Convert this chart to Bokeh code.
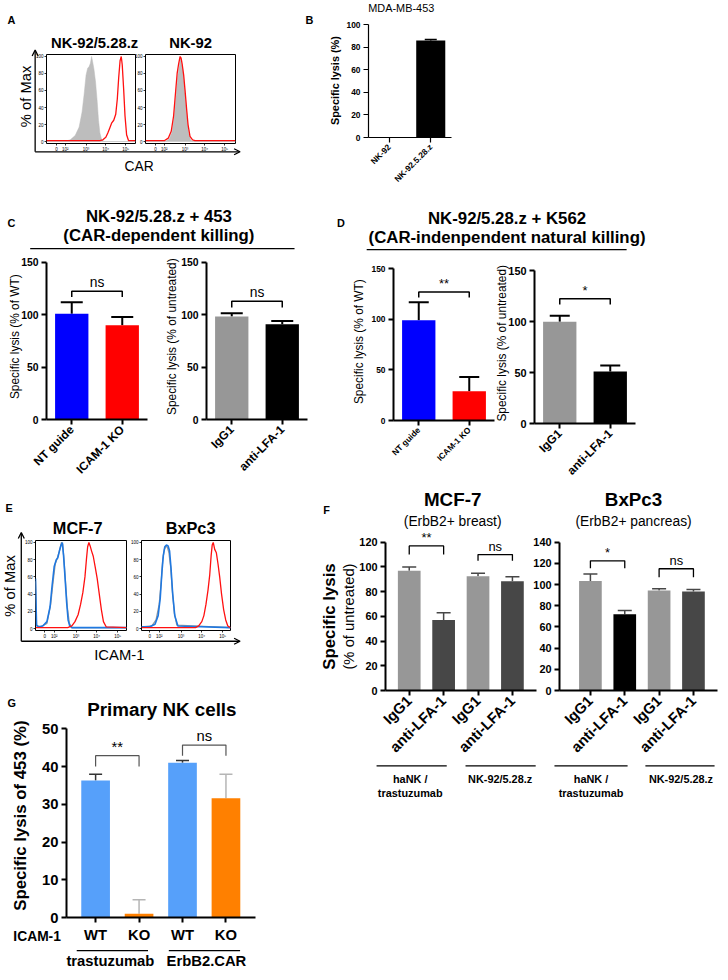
import math
from bokeh.plotting import figure
from bokeh.models import (Range1d, FixedTicker, ColumnDataSource, Whisker, TeeHead,
                          Arrow, OpenHead, Label, Column)
from bokeh.embed import file_html
from bokeh.resources import INLINE
from bokeh.core.properties import value

# ======================= DATA =======================
# Panel A: CAR flow histograms (x = display position in decades, y = % of max)
a1_gray_x = [1.0, 1.9, 2.2, 2.45, 2.65, 2.8, 2.9, 3.0, 3.08, 3.15, 3.22, 3.28, 3.33, 3.4, 3.48, 3.56, 3.63, 3.7, 3.78, 3.9, 5.5]
a1_gray_y = [0, 0, 2, 7, 17, 35, 55, 78, 86, 88, 92, 100, 94, 85, 70, 48, 25, 10, 3, 0, 0]
a1_red_x = [1.0, 3.7, 3.85, 4.0, 4.1, 4.2, 4.3, 4.4, 4.5, 4.58, 4.65, 4.72, 4.78, 4.83, 4.9, 4.97, 5.05, 5.15, 5.5]
a1_red_y = [1, 1, 2, 5, 10, 16, 22, 25, 32, 50, 75, 95, 100, 90, 62, 30, 8, 1, 1]
a2_gray_x = [1.0, 2.0, 2.2, 2.35, 2.45, 2.55, 2.62, 2.7, 2.76, 2.82, 2.88, 2.95, 3.02, 3.1, 3.18, 3.28, 3.4, 5.55]
a2_gray_y = [0, 0, 3, 12, 30, 55, 75, 88, 98, 92, 85, 70, 50, 28, 10, 2, 0, 0]
a2_red_x = [1.0, 1.95, 2.15, 2.3, 2.42, 2.52, 2.6, 2.68, 2.75, 2.8, 2.86, 2.93, 3.0, 3.08, 3.15, 3.25, 3.38, 3.5, 5.55]
a2_red_y = [1, 1, 4, 12, 30, 58, 80, 92, 100, 98, 90, 78, 60, 38, 20, 6, 2, 1, 1]

# Panel E: ICAM-1 flow histograms
e1_blue_x = [1.05, 1.1, 1.2, 1.4, 1.6, 1.75, 1.85, 1.95, 2.05, 2.12, 2.2, 2.28, 2.34, 2.4, 2.47, 2.55, 2.62, 2.7, 2.8, 5.43]
e1_blue_y = [58, 4, 2, 3, 8, 25, 50, 72, 80, 82, 90, 97, 100, 85, 60, 30, 10, 3, 1, 1]
e1_gray_x = [1.05, 1.1, 1.3, 1.6, 1.78, 1.9, 2.0, 2.1, 2.2, 2.3, 2.36, 2.42, 2.5, 2.58, 2.68, 2.8, 5.43]
e1_gray_y = [55, 3, 2, 6, 28, 55, 75, 82, 90, 100, 98, 80, 52, 25, 6, 1, 1]
e1_red_x = [1.05, 2.6, 2.8, 2.95, 3.1, 3.22, 3.33, 3.43, 3.5, 3.56, 3.62, 3.68, 3.75, 3.83, 3.92, 4.02, 4.12, 4.22, 4.32, 4.45, 5.43]
e1_red_y = [1, 1, 3, 8, 16, 28, 42, 60, 80, 95, 100, 96, 90, 84, 72, 58, 40, 22, 8, 2, 1]
e2_blue_x = [1.1, 1.5, 1.75, 1.9, 2.0, 2.08, 2.15, 2.22, 2.3, 2.38, 2.45, 2.52, 2.6, 2.7, 2.85, 5.38]
e2_blue_y = [2, 2, 5, 15, 35, 65, 85, 95, 97, 96, 90, 70, 40, 15, 3, 1]
e2_gray_x = [1.1, 1.6, 1.8, 1.95, 2.05, 2.12, 2.2, 2.28, 2.35, 2.42, 2.5, 2.58, 2.68, 2.8, 5.38]
e2_gray_y = [2, 3, 10, 28, 55, 80, 92, 96, 94, 88, 72, 45, 18, 4, 1]
e2_red_x = [1.1, 3.7, 3.85, 4.0, 4.1, 4.2, 4.3, 4.38, 4.45, 4.5, 4.55, 4.62, 4.7, 4.78, 4.86, 4.95, 5.05, 5.15, 5.25, 5.38]
e2_red_y = [1, 1, 3, 8, 15, 28, 45, 62, 85, 97, 100, 92, 88, 75, 60, 40, 22, 10, 3, 1]

hist_xticks = [1.5, 1.95, 3, 4, 5]
hist_xlabels = ["0", "10²", "10³", "10⁴", "10⁵"]
hist_yticks = [0, 20, 40, 60, 80, 100]

# Panel B
b_cats = ["NK-92", "NK-92.5.28.z"]
b_vals = [0, 86]
b_errs = [0, 1]
b_yticks = [0, 20, 40, 60, 80, 100]

# Panel C
c1_cats = ["NT guide", "ICAM-1 KO"]
c1_vals = [101, 90]
c1_errs = [11, 8]
c1_sig = [(0, 1, 122.5, 117, "ns")]
c2_cats = ["IgG1", "anti-LFA-1"]
c2_vals = [98.5, 91]
c2_errs = [3, 3]
c2_sig = [(0, 1, 113, 107, "ns")]
cd_yticks = [0, 50, 100, 150]

# Panel D
d1_cats = ["NT guide", "ICAM-1 KO"]
d1_vals = [99, 29]
d1_errs = [18, 14]
d1_sig = [(0, 1, 127, 121.5, "**")]
d2_cats = ["IgG1", "anti-LFA-1"]
d2_vals = [100, 51]
d2_errs = [6, 6]
d2_sig = [(0, 1, 122.5, 117, "*")]

# Panel F
f_cats = ["IgG1", "anti-LFA-1", "IgG1", "anti-LFA-1"]
f_groups = ["haNK /\ntrastuzumab", "NK-92/5.28.z"]
f1_vals = [97, 57, 92.5, 88.5]
f1_errs = [3, 6, 2.5, 3.5]
f1_sig = [(0, 1, 117, 110, "**"), (2, 3, 110, 105, "ns")]
f1_yticks = [0, 20, 40, 60, 80, 100, 120]
f2_vals = [103.5, 72, 94.5, 93.5]
f2_errs = [6.5, 3.5, 1.5, 2]
f2_sig = [(0, 1, 122.5, 115.5, "*"), (2, 3, 115, 107, "ns")]
f2_yticks = [0, 20, 40, 60, 80, 100, 120, 140]

# Panel G
g_cats = ["WT", "KO", "WT", "KO"]
g_groups = ["trastuzumab", "ErbB2.CAR"]
g_vals = [36.3, 1.0, 41.0, 31.6]
g_errs = [1.7, 3.7, 0.6, 6.4]
g_sig = [(0, 1, 42.9, 40, "**"), (2, 3, 45.7, 42.9, "ns")]
g_yticks = [0, 10, 20, 30, 40, 50]

# ======================= STYLE / LAYOUT =======================
S = 0.989
W_PAGE, H_PAGE = 728, 980
FONT = "Liberation Sans"
BLUE, RED, LGRAY, DGRAY, BLACK = "#0000FF", "#FF0000", "#979797", "#474747", "#000000"
GBLUE, GORANGE = "#56A0FA", "#FF8000"
MIN_LEFT = 60
charts = []


def fs(px):
    return f"{px * S:.1f}px"


def make_fig(frame, xr, yr, bt=14, br=14, bb=80, outline=None):
    L, T, R, B = frame
    bl = MIN_LEFT
    fw = max(10, round((R - L) * S))
    fh = max(10, round((B - T) * S))
    left = round(L * S) - bl
    top = round(T * S) - bt
    p = figure(frame_width=fw, frame_height=fh,
               x_range=Range1d(*xr), y_range=Range1d(*yr),
               output_backend="svg", toolbar_location=None, title=None,
               min_border_left=bl, min_border_right=br, min_border_top=bt, min_border_bottom=bb,
               background_fill_color=None, border_fill_color=None,
               outline_line_color=outline,
               styles={"position": "absolute", "left": f"{left}px", "top": f"{top}px"})
    p.grid.visible = False
    charts.append(p)
    return p


def style_axis(ax, size, bold=True, lw=2.0, tick_out=5, standoff=3):
    ax.axis_line_width = lw
    ax.axis_line_color = "black"
    ax.major_tick_line_width = lw
    ax.major_tick_line_color = "black"
    ax.major_tick_in = 0
    ax.major_tick_out = tick_out
    ax.minor_tick_line_color = None
    ax.major_label_text_font = FONT
    ax.major_label_text_font_size = fs(size)
    ax.major_label_text_font_style = "bold" if bold else "normal"
    ax.major_label_standoff = standoff
    ax.major_label_text_color = "black"


def bar_chart(frame, xr, ymax, yticks, cats, vals, errs, colors, err_colors, sig, st):
    # frame = (left, y-of-ymax, right, y-of-0) in reference pixels; add headroom above ymax
    L, T, R, B = frame
    head = st.get("head", 0.14)
    T2 = T - head * (B - T)
    p = make_fig((L, T2, R, B), xr, (0, ymax * (1 + head)),
                 bb=st.get("bb", 80), br=st.get("br", 14), bt=4)
    xs = [i + 1 for i in range(len(cats))]
    p.vbar(x=xs, top=vals, bottom=0, width=st["bw"], fill_color=colors, line_color=None)
    for col in sorted(set(err_colors)):
        idx = [i for i in range(len(xs)) if err_colors[i] == col and errs[i] > 0]
        if not idx:
            continue
        src = ColumnDataSource(dict(x=[xs[i] for i in idx], lo=[vals[i] for i in idx],
                                    up=[vals[i] + errs[i] for i in idx]))
        p.add_layout(Whisker(source=src, base="x", lower="lo", upper="up", dimension="height",
                             line_color=col, line_width=st["elw"], lower_head=None,
                             upper_head=TeeHead(size=st["cap"], line_color=col, line_width=st["elw"])))
    for (i, j, top, drop, lab) in sig:
        p.line([xs[i], xs[i], xs[j], xs[j]], [drop, top, top, drop],
               line_color=st.get("bc", "black"), line_width=st.get("blw", 1.5))
        p.add_layout(Label(x=(xs[i] + xs[j]) / 2, y=top, text=lab, text_align="center",
                           text_baseline="bottom", y_offset=1, text_font=FONT,
                           text_font_size=fs(st["sfs"]), text_color="black"))
    style_axis(p.yaxis[0], st["yfs"], lw=st.get("alw", 2.0))
    style_axis(p.xaxis[0], st["xfs"], lw=st.get("alw", 2.0), standoff=st.get("xso", 3))
    p.yaxis.bounds = (0, ymax)
    p.yaxis.ticker = FixedTicker(ticks=yticks)
    p.xaxis.ticker = FixedTicker(ticks=xs)
    p.xaxis.major_label_overrides = {x: c for x, c in zip(xs, cats)}
    p.xaxis.major_label_orientation = st.get("orient", math.pi / 4)
    return p


def hist_chart(frame, xr, curves, fill=None):
    p = make_fig(frame, xr, (-2.3, 102.3), bt=4, br=4, bb=14, outline="black")
    p.outline_line_width = 1
    if fill is not None:
        fx, fy, fc = fill
        p.patch(fx, fy, fill_color=fc, line_color=fc, line_width=0.5)
    for (cx, cy, cc, cw) in curves:
        p.line(cx, cy, line_color=cc, line_width=cw)
    for ax in (p.xaxis[0], p.yaxis[0]):
        style_axis(ax, 4.5, bold=False, lw=0.8, tick_out=2, standoff=1)
        ax.axis_line_color = None
    p.xaxis.ticker = FixedTicker(ticks=hist_xticks)
    p.xaxis.major_label_overrides = {t: l for t, l in zip(hist_xticks, hist_xlabels)}
    p.yaxis.ticker = FixedTicker(ticks=hist_yticks)
    return p


# ======================= BACKGROUND TEXT LAYERS (left and right halves) =======================
H = H_PAGE
SPLIT = 300
bgs = []
for (x0, x1) in ((0, SPLIT), (SPLIT, W_PAGE)):
    b = figure(frame_width=round((x1 - x0) * S), frame_height=round(H * S),
               x_range=Range1d(x0, x1), y_range=Range1d(0, H),
               output_backend="svg", toolbar_location=None, title=None,
               x_axis_location=None, y_axis_location=None,
               min_border_left=MIN_LEFT, min_border_right=0, min_border_top=0, min_border_bottom=0,
               background_fill_color=None, border_fill_color=None, outline_line_color=None,
               styles={"position": "absolute", "left": f"{round(x0 * S) - MIN_LEFT}px", "top": "0px"})
    b.grid.visible = False
    bgs.append(b)

texts = [
    # (text, x, y, size, style, align, angle)
    ("A", 7, 20, 11, "bold", "left", 0),
    ("NK-92/5.28.z", 95, 43, 15, "bold", "center", 0),
    ("NK-92", 192, 43, 15, "bold", "center", 0),
    ("% of Max", 26, 97, 15, "normal", "center", 90),
    ("CAR", 140, 168, 14, "normal", "center", 0),
    ("B", 308, 20, 11, "bold", "left", 0),
    ("MDA-MB-453", 405, 8, 11, "normal", "center", 0),
    ("Specific lysis (%)", 338, 81, 11, "bold", "center", 90),
    ("C", 7, 225, 11, "bold", "left", 0),
    ("NK-92/5.28.z + 453", 160, 218, 17, "bold", "center", 0),
    ("(CAR-dependent killing)", 160, 238, 17, "bold", "center", 0),
    ("Specific lysis (% of WT)", 15, 340, 12, "normal", "center", 90),
    ("Specific lysis (% of untreated)", 173, 340, 12, "normal", "center", 90),
    ("D", 340, 225, 11, "bold", "left", 0),
    ("NK-92/5.28.z + K562", 512, 220, 17, "bold", "center", 0),
    ("(CAR-indenpendent natural killing)", 512, 240, 17, "bold", "center", 0),
    ("Specific lysis (% of WT)", 362, 345, 12, "normal", "center", 90),
    ("Specific lysis  (% of untreated)", 507, 345, 12, "normal", "center", 90),
    ("E", 5, 513, 11, "bold", "left", 0),
    ("MCF-7", 78, 533, 16.5, "bold", "center", 0),
    ("BxPc3", 192, 533, 16.5, "bold", "center", 0),
    ("% of Max", 10, 592, 15, "normal", "center", 90),
    ("ICAM-1", 120, 662, 15, "normal", "center", 0),
    ("F", 326, 515, 11, "bold", "left", 0),
    ("MCF-7", 457, 505, 19, "bold", "center", 0),
    ("(ErbB2+ breast)", 457, 527, 14, "normal", "center", 0),
    ("BxPc3", 640, 505, 19, "bold", "center", 0),
    ("(ErbB2+ pancreas)", 640, 527, 14, "normal", "center", 0),
    ("Specific lysis", 332, 623, 17, "bold", "center", 90),
    ("(% of untreated)", 352, 623, 15, "normal", "center", 90),
    ("G", 7, 710, 11, "bold", "left", 0),
    ("Primary NK cells", 163, 717, 19, "bold", "center", 0),
    ("Specific lysis of 453  (%)", 20, 822, 17, "bold", "center", 90),
    ("ICAM-1", 37, 947, 14, "bold", "center", 0),
]
for gx, gtxt in ((414, f_groups[0]), (505, f_groups[1]), (597, f_groups[0]), (688, f_groups[1])):
    for k, ln in enumerate(gtxt.split("\n")):
        texts.append((ln, gx, 787 + 14 * k, 11, "bold", "center", 0))
texts.append((g_groups[0], 111, 971, 15, "bold", "center", 0))
texts.append((g_groups[1], 208, 971, 15, "bold", "center", 0))

seg = [(30, 251, 297, 251), (370, 252, 633, 252),
       (380, 774, 451, 774), (470, 774, 541, 774), (560, 774, 634, 774), (652, 774, 722, 774),
       (77, 961, 149, 961), (170, 961, 242, 961)]
arrows = [(35, 153, 35, 50), (35, 153, 242, 153), (21, 648, 21, 538), (21, 648, 242, 648)]

for side, b in enumerate(bgs):
    sel = [t for t in texts if (t[1] < SPLIT) == (side == 0)]
    tsrc = ColumnDataSource(dict(
        text=[t[0] for t in sel], x=[t[1] for t in sel], y=[H - t[2] for t in sel],
        size=[fs(t[3]) for t in sel], style=[t[4] for t in sel], align=[t[5] for t in sel],
        angle=[math.radians(t[6]) for t in sel]))
    b.text(x="x", y="y", text="text", source=tsrc, text_font=value(FONT), text_font_size="size",
           text_font_style="style", text_align="align", text_baseline="middle", angle="angle",
           text_color="black")
    ss = [s for s in seg if (s[0] < SPLIT) == (side == 0)]
    b.segment(x0=[s[0] for s in ss], y0=[H - s[1] for s in ss], x1=[s[2] for s in ss],
              y1=[H - s[3] for s in ss], line_color="black", line_width=1.3)
    if side == 0:
        for (xa, ya, xb, yb) in arrows:
            b.add_layout(Arrow(x_start=xa, y_start=H - ya, x_end=xb, y_end=H - yb, line_width=1.3,
                               line_color="black",
                               end=OpenHead(size=6, line_width=1.3, line_color="black")))

# ======================= CHARTS =======================
hist_chart((47, 55, 137, 145), (1.0, 5.5), [(a1_red_x, a1_red_y, "#FF1010", 1.3)],
           fill=(a1_gray_x, a1_gray_y, "#BDBDBD"))
hist_chart((147, 55, 238, 145), (1.0, 5.55), [(a2_red_x, a2_red_y, "#FF1010", 1.3)],
           fill=(a2_gray_x, a2_gray_y, "#BDBDBD"))
hist_chart((35, 546, 127, 637), (1.05, 5.43),
           [(e1_gray_x, e1_gray_y, "#9A9A9A", 1.3), (e1_blue_x, e1_blue_y, "#1F78E0", 1.6),
            (e1_red_x, e1_red_y, "#FF1010", 1.3)])
hist_chart((143, 546, 233, 637), (1.1, 5.38),
           [(e2_gray_x, e2_gray_y, "#9A9A9A", 1.3), (e2_blue_x, e2_blue_y, "#1F78E0", 1.6),
            (e2_red_x, e2_red_y, "#FF1010", 1.3)])

bar_chart((372, 25, 456, 139), (0.5, 2.5), 100, b_yticks, b_cats, b_vals, b_errs,
          [BLACK, BLACK], [BLACK, BLACK], [],
          dict(bw=0.7, elw=1.5, cap=12, sfs=10, yfs=8.5, xfs=8.5, alw=1.2, head=0.02))
bar_chart((47, 265, 149, 424), (0.5, 2.5), 150, cd_yticks, c1_cats, c1_vals, c1_errs,
          [BLUE, RED], [BLACK, BLACK], c1_sig,
          dict(bw=0.66, elw=2, cap=22, sfs=14, yfs=10.5, xfs=12))
bar_chart((208, 265, 310, 424), (0.5, 2.5), 150, cd_yticks, c2_cats, c2_vals, c2_errs,
          [LGRAY, BLACK], [BLACK, BLACK], c2_sig,
          dict(bw=0.66, elw=2, cap=22, sfs=14, yfs=10.5, xfs=12))
bar_chart((397, 271, 499, 424), (0.5, 2.5), 150, cd_yticks, d1_cats, d1_vals, d1_errs,
          [BLUE, RED], [BLACK, BLACK], d1_sig,
          dict(bw=0.66, elw=2, cap=20, sfs=13, yfs=8.5, xfs=8.5))
bar_chart((540, 273, 642, 427), (0.5, 2.5), 150, cd_yticks, d2_cats, d2_vals, d2_errs,
          [LGRAY, BLACK], [BLACK, BLACK], d2_sig,
          dict(bw=0.66, elw=2, cap=20, sfs=13, yfs=11, xfs=12))
bar_chart((389, 548, 542, 698), (0.31, 4.7), 120, f1_yticks, f_cats, f1_vals, f1_errs,
          [LGRAY, DGRAY, LGRAY, DGRAY], [DGRAY] * 4, f1_sig,
          dict(bw=0.66, elw=1.5, cap=14, sfs=13, yfs=11, xfs=15, blw=1.3))
bar_chart((565, 548, 725, 698), (0.1, 4.7), 140, f2_yticks, f_cats, f2_vals, f2_errs,
          [LGRAY, BLACK, LGRAY, DGRAY], [DGRAY] * 4, f2_sig,
          dict(bw=0.66, elw=1.5, cap=14, sfs=13, yfs=11, xfs=15, blw=1.3, br=2))
bar_chart((67, 737, 258, 928), (0.33, 4.68), 50, g_yticks, g_cats, g_vals, g_errs,
          [GBLUE, GORANGE, GBLUE, GORANGE], ["#333333", "#B5B5B5", "#333333", "#B5B5B5"], g_sig,
          dict(bw=0.66, elw=1.5, cap=13, sfs=15, yfs=15, xfs=15, orient="horizontal",
               bc="#555555", blw=1.2, bb=40, xso=4))

layout = Column(children=bgs + charts, width=round(W_PAGE * S), height=round(H * S),
                sizing_mode="fixed", styles={"position": "relative"})

open("out.html", "w").write(file_html(layout, INLINE))
